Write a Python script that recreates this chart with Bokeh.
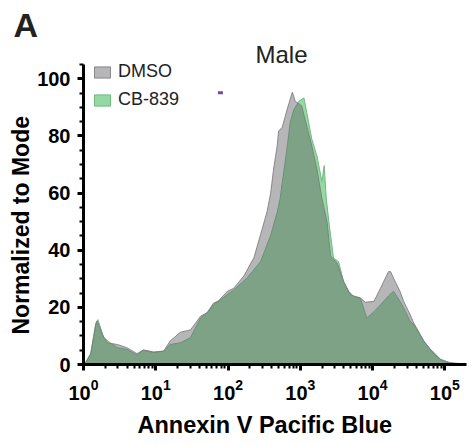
from bokeh.plotting import figure
from bokeh.models import (FixedTicker, Legend, LegendItem, Range1d, Title)
from bokeh.embed import file_html
from bokeh.resources import INLINE

# ---- data ----
dmso_x = [1.0, 1.07, 1.26, 1.48, 1.55, 1.82, 2.14, 2.95, 3.98, 5.50, 6.76, 9.33, 12.9, 15.8,
          21.9, 30.2, 41.7, 51.3, 63.1, 74.1, 97.7, 120, 166, 229, 282, 347, 389, 427, 479,
          501, 562, 661, 776, 851, 955, 1047, 1230, 1445, 1698, 1995, 2344, 2630, 3236, 3981,
          4677, 5495, 6761, 7943, 10470, 12880, 16600, 17780, 19500, 23990, 26920, 33110,
          37150, 45710, 51290, 63100, 70790, 87100, 117500, 162200, 199500]
dmso_y = [0, 0.7, 3.6, 14.0, 15.2, 10.5, 7.6, 7.0, 5.9, 3.8, 5.1, 4.4, 4.7, 8.2,
          11.3, 12.1, 16.9, 18.1, 21.5, 22.3, 25.6, 26.7, 31.0, 37.5, 45.5, 53.5, 60.0, 68.4, 76.5,
          81.7, 83.0, 89.5, 95.3, 92.1, 91.3, 90.5, 83.4, 76.5, 68.4, 58.0, 50.0, 38.0, 35.5, 29.0,
          25.6, 23.8, 23.3, 21.8, 22.1, 26.7, 32.5, 32.5, 30.2, 25.6, 22.1, 17.5,
          14.5, 10.5, 8.2, 5.3, 4.2, 1.8, 0.7, 0.3, 0]

cb_x = [1.0, 1.07, 1.26, 1.48, 1.58, 1.91, 2.34, 2.95, 3.98, 5.50, 6.76, 9.33, 12.9, 15.8,
        21.9, 30.2, 41.7, 53.7, 63.1, 87.1, 120, 182, 282, 389, 479, 525, 589, 661, 724, 813,
        955, 1122, 1230, 1445, 1698, 1995, 2138, 2291, 2512, 2884, 3388, 3981, 4898, 6761,
        8318, 10470, 12880, 16600, 19500, 23990, 26920, 33110, 37150, 51290, 70790, 87100,
        107200, 141300]
cb_y = [0, 0.7, 4.0, 14.5, 15.7, 9.4, 7.6, 5.9, 5.3, 3.3, 5.0, 4.2, 4.7, 7.0,
        7.6, 9.4, 16.3, 18.6, 20.9, 23.5, 26.1, 30.2, 36.0, 45.2, 53.3, 58.0, 67.2, 76.5, 84.6, 89.2,
        92.1, 93.3, 88.1, 78.8, 73.0, 64.0, 69.6, 58.0, 49.0, 37.2, 36.0, 29.0, 24.4, 23.3,
        16.3, 18.5, 20.9, 24.0, 25.6, 22.1, 19.8, 15.1, 14.0, 8.2, 3.6, 1.8,
        0.7, 0]

x_major = [1, 10, 100, 1000, 10000, 100000]
x_minor = [k * 10 ** n for n in range(0, 6) for k in range(2, 10)]
y_major = [0, 20, 40, 60, 80, 100]
y_minor = [v for v in range(5, 110, 5) if v % 20 != 0]

stray_x = [78.5]
stray_y = [95.1]

FONT = "Liberation Sans"

p = figure(width=474, height=444, x_axis_type="log",
           x_range=Range1d(1, 199500), y_range=Range1d(0, 106.4),
           output_backend="svg", toolbar_location=None,
           min_border_left=83, min_border_right=8, min_border_top=60, min_border_bottom=77)
p.outline_line_color = None
p.grid.visible = False

green_r = p.patch(cb_x, cb_y, fill_color="#93d9a1", fill_alpha=1.0,
                  line_color="#6fb883", line_width=1)
gray_r = p.patch(dmso_x, dmso_y, fill_color="#646468", fill_alpha=0.47,
                 line_color="#7a7a7a", line_alpha=0.85, line_width=1)

p.rect(x=stray_x, y=stray_y, width=5, height=3, width_units="screen", height_units="screen",
       fill_color="#6a4ca6", line_color=None)

# axes
for ax in (p.xaxis[0], p.yaxis[0]):
    ax.axis_line_width = 3
    ax.axis_line_color = "black"
    ax.major_tick_line_width = 3
    ax.minor_tick_line_width = 2
    ax.major_tick_out = 6
    ax.major_tick_in = 0
    ax.minor_tick_out = 4
    ax.minor_tick_in = 0
    ax.major_label_text_font = FONT
    ax.major_label_text_font_style = "bold"
    ax.major_label_text_font_size = "20px"
    ax.major_label_text_color = "black"

p.yaxis.ticker = FixedTicker(ticks=y_major, minor_ticks=y_minor)
p.yaxis.bounds = (0, 105)
p.yaxis.major_label_standoff = 7
p.xaxis.ticker = FixedTicker(ticks=x_major, minor_ticks=x_minor)
p.xaxis.major_label_standoff = 8

# titles / labels  (outer: panel letter, inner: "Male")
p.title.text = "A"
p.title.align = "left"
p.title.offset = -70
p.title.standoff = 4
p.title.text_font = FONT
p.title.text_font_size = "34px"
p.title.text_font_style = "bold"
p.title.text_color = "#222222"

p.add_layout(Title(text="Male", align="left", offset=172, standoff=-14,
                   text_font=FONT, text_font_size="24px", text_font_style="normal",
                   text_color="#222222"), "above")

p.add_layout(Title(text="Annexin V Pacific Blue", align="left", offset=54, standoff=14,
                   text_font=FONT, text_font_size="23.5px", text_font_style="bold",
                   text_color="black"), "below")

p.add_layout(Title(text="Normalized to Mode", align="left", offset=30, standoff=2,
                   text_font=FONT, text_font_size="23px", text_font_style="bold",
                   text_color="black"), "left")

legend = Legend(items=[LegendItem(label="DMSO", renderers=[gray_r]),
                       LegendItem(label="CB-839", renderers=[green_r])],
                location=(9, 254), margin=0, padding=0, spacing=7,
                glyph_width=20, glyph_height=14, label_height=21, label_standoff=6,
                label_text_font=FONT, label_text_font_size="18px", label_text_color="#222222",
                background_fill_alpha=0, border_line_alpha=0)
p.add_layout(legend)

open("out.html", "w").write(file_html(p, INLINE))
